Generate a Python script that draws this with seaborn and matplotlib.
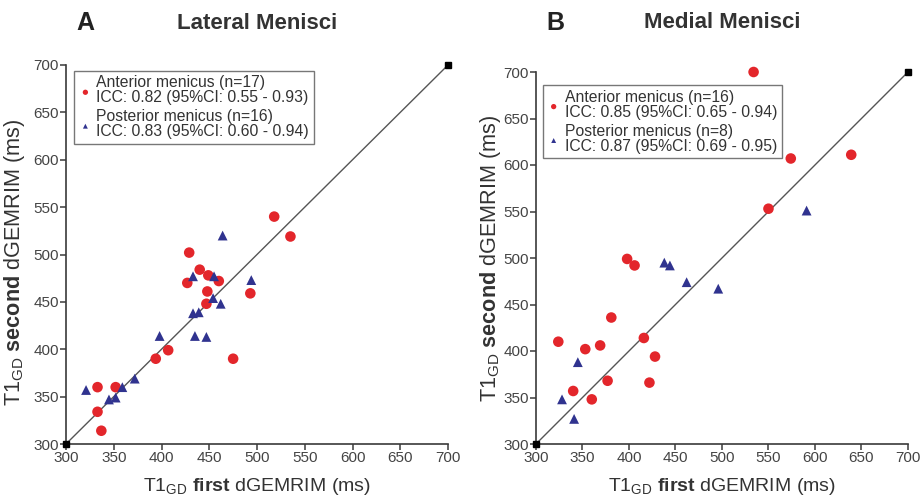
import numpy as np
import pandas as pd
import matplotlib
matplotlib.use("Agg")
import matplotlib.pyplot as plt
import seaborn as sns

# lateral menisci (panel A)
lat_ant_x = [518, 535, 429, 440, 449, 460, 427, 448, 493, 447, 407, 394, 475, 333, 352, 333, 337]
lat_ant_y = [540, 519, 502, 484, 478, 472, 470, 461, 459, 448, 399, 390, 390, 360, 360, 334, 314]
lat_post_x = [464, 433, 455, 494, 454, 462, 433, 439, 398, 435, 447, 372, 359, 321, 345, 352]
lat_post_y = [520, 477, 477, 473, 454, 448, 438, 439, 414, 414, 413, 369, 360, 357, 347, 349]

# medial menisci (panel B)
med_ant_x = [534, 574, 639, 550, 398, 406, 381, 324, 369, 353, 416, 428, 377, 422, 340, 360]
med_ant_y = [700, 607, 611, 553, 499, 492, 436, 410, 406, 402, 414, 394, 368, 366, 357, 348]
med_post_x = [438, 444, 462, 496, 591, 345, 328, 341]
med_post_y = [495, 492, 474, 467, 551, 388, 348, 327]

lat_labels = ["Anterior menicus (n=17)\nICC: 0.82 (95%CI: 0.55 - 0.93)",
              "Posterior menicus (n=16)\nICC: 0.83 (95%CI: 0.60 - 0.94)"]
med_labels = ["Anterior menicus (n=16)\nICC: 0.85 (95%CI: 0.65 - 0.94)",
              "Posterior menicus (n=8)\nICC: 0.87 (95%CI: 0.69 - 0.95)"]

identity = [300, 700]
ticks = list(range(300, 701, 50))

sns.set_style("ticks")
plt.rcParams['font.family'] = ['Liberation Sans', 'DejaVu Sans']
plt.rcParams['mathtext.fontset'] = 'custom'
plt.rcParams['mathtext.rm'] = 'Liberation Sans'
plt.rcParams['mathtext.bf'] = 'Liberation Sans:bold'

red = "#e3262b"
blue = "#30338f"
grey = "#3a3a3a"

fig = plt.figure(figsize=(9.23, 5.0), dpi=100)
axA = fig.add_axes([0.0715, 0.112, 0.4139, 0.758])
axB = fig.add_axes([0.5807, 0.112, 0.403, 0.744])


def panel(ax, ax_x, ax_y, px, py, labels, title, letter, leg_anchor, title_y,
          ylab_xy, xlab_y):
    dfa = pd.DataFrame({"x": ax_x, "y": ax_y})
    dfp = pd.DataFrame({"x": px, "y": py})
    ax.plot(identity, identity, color="#555555", lw=1.0, zorder=1)
    ax.plot(identity, identity, ls="none", marker="s", ms=4, color="black",
            clip_on=False, zorder=5)
    sns.scatterplot(data=dfa, x="x", y="y", ax=ax, color=red, marker="o",
                    s=58, edgecolor="none", label=labels[0], zorder=3,
                    clip_on=False)
    sns.scatterplot(data=dfp, x="x", y="y", ax=ax, color=blue, marker="^",
                    s=50, edgecolor="none", label=labels[1], zorder=3,
                    clip_on=False)
    ax.set_xlim(300, 700)
    ax.set_ylim(300, 700)
    ax.set_xticks(ticks)
    ax.set_yticks(ticks)
    sns.despine(ax=ax)
    for s in ["left", "bottom"]:
        ax.spines[s].set_color(grey)
        ax.spines[s].set_linewidth(1.2)
    ax.tick_params(direction="out", length=4, width=1.1, color=grey,
                   labelsize=11, labelcolor="#444444", pad=1)
    ax.set_xlabel(r"T1$_{\rm GD}$ $\bf{first}$ dGEMRIM (ms)", fontsize=14,
                  color="#333333")
    ax.set_ylabel(r"T1$_{\rm GD}$ $\bf{second}$ dGEMRIM (ms)", fontsize=15.6,
                  color="#333333")
    ax.xaxis.set_label_coords(0.5, xlab_y)
    ax.yaxis.set_label_coords(*ylab_xy)
    ax.text(0.5, title_y, title, transform=ax.transAxes, ha="center", va="center",
            fontsize=16, fontweight="bold", color="#333333")
    ax.text(0.052, title_y, letter, transform=ax.transAxes, ha="center", va="center",
            fontsize=18, fontweight="bold", color="#222222")
    leg = ax.legend(loc="upper left", bbox_to_anchor=leg_anchor, borderaxespad=0,
                    fancybox=False, framealpha=1, edgecolor="#777777",
                    markerscale=0.5, handletextpad=0.3, labelspacing=0.25,
                    borderpad=0.3, handlelength=0.8, fontsize=11.3)
    leg.get_frame().set_linewidth(1.0)
    for t in leg.get_texts():
        t.set_color("#333333")
        t.set_linespacing(1.0)


panel(axA, lat_ant_x, lat_ant_y, lat_post_x, lat_post_y, lat_labels,
      "Lateral Menisci", "A", (0.022, 0.985), 1.11, (-0.102, 0.48), -0.084)
panel(axB, med_ant_x, med_ant_y, med_post_x, med_post_y, med_labels,
      "Medial Menisci", "B", (0.018, 0.965), 1.132, (-0.09, 0.5), -0.086)

fig.savefig("out.png", dpi=100)
